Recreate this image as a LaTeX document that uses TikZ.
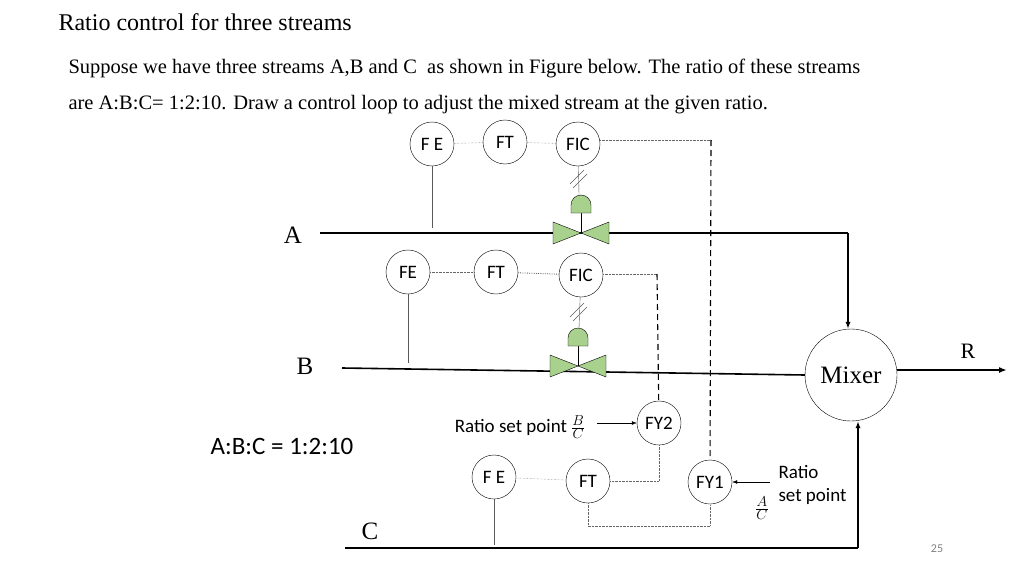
\documentclass[tikz,border=0pt]{standalone}
\usepackage{fontspec}
\setmainfont{Liberation Serif}
\newfontfamily\carl{Carlito}
\usetikzlibrary{arrows.meta}
\definecolor{valvegreen}{RGB}{169,209,142}
\tikzset{
    inst/.style = {draw, circle, fill=white, minimum size=44pt, inner sep=0pt, font=\carl\fontsize{19}{22}\selectfont},
    pipe/.style = {line width=1.6pt},
    sig/.style = {densely dotted, gray!80!black, thin},
    elec/.style = {line width=1.1pt, dash pattern=on 6pt off 4pt},
    stem/.style = {gray!70!black, thin},
    lbl/.style = {font=\fontsize{25}{28}\selectfont},
}
\tikzset{
    valve/.pic = {
        \draw[fill=valvegreen] (0,0) -- (-28,-11) -- (-28,11) -- cycle;
        \draw[fill=valvegreen] (0,0) -- (28,-11) -- (28,11) -- cycle;
        \draw[thick] (0,0) -- (0,-20);
        \draw[fill=valvegreen] (-10,-20) -- (10,-20) -- (10,-28) arc (0:-180:10) -- cycle;
    },
}

\begin{document}
\begin{tikzpicture}[x=1pt,y=-1pt]
\useasboundingbox (0,0) rectangle (1024,575);
% titles
\node[anchor=west, font=\fontsize{24}{28}\selectfont] (title) at (55,22) {Ratio control for three streams};
\node[anchor=west, font=\fontsize{20.5}{24}\selectfont] (line1) at (65,68) {Suppose we have three streams A,B and C\ \ as shown in Figure below. The ratio of these streams};
\node[anchor=west, font=\fontsize{20.5}{24}\selectfont] (line2) at (65,105) {are A:B:C= 1:2:10. Draw a control loop to adjust the mixed stream at the given ratio.};

% mixer
\node[draw, circle, minimum size=92pt, font=\fontsize{25}{28}\selectfont] (mix) at (851,375) {Mixer};
\coordinate (rin) at (897,370);
\coordinate (rout) at (1007,370);
\draw[pipe, -{Latex[length=8pt]}] (rin) -- (rout);
\node[font=\fontsize{22}{24}\selectfont] (rlbl) at (968,351) {R};

% stream A
\coordinate (a0) at (320,233);
\coordinate (a1) at (848,233);
\node[lbl] (albl) at (293,235) {A};
\draw[pipe] (a0) -- (a1);
\draw[pipe, -{Latex[length=7pt]}] (a1) -- (mix.north -| a1);
\pic at (581,233) {valve};
\node[inst] (feA) at (432,144) {F E};
\node[inst] (ftA) at (505,142) {FT};
\node[inst] (ficA) at (578,144) {FIC};
\draw[sig] (feA) -- (ftA);
\draw[sig] (ftA) -- (ficA);
\draw[stem] (feA) -- (432,228);
\draw[stem] (ficA) -- (579,195);
\draw[stem] (570,184) -- (584,170) (573,188) -- (587,174);
\coordinate (aturn) at (711,140);
\draw[sig] (ficA.east |- aturn) -- (aturn);

% stream B
\coordinate (b0) at (342,368);
\node[lbl] (blbl) at (305,366) {B};
\draw[pipe] (b0) -- (mix.west);
\pic at (578,366) {valve};
\node[inst] (feB) at (408,272) {FE};
\node[inst] (ftB) at (496,272) {FT};
\node[inst] (ficB) at (581,275) {FIC};
\draw[sig] (feB) -- (ftB);
\draw[sig, thick] (ftB) -- (ficB);
\draw[stem] (feB) -- (408,363);
\draw[stem] (ficB) -- (579,328);
\draw[stem] (570,317) -- (584,303) (573,321) -- (587,307);
\coordinate (bturn) at (657,274);
\draw[sig] (ficB.east |- bturn) -- (bturn);

% stream C
\coordinate (c0) at (345,548);
\coordinate (c1) at (858,548);
\coordinate (cbus) at (0,526);
\node[lbl] (clbl) at (370,531) {C};
\draw[pipe] (c0) -- (c1);
\draw[pipe, -{Latex[length=7pt]}] (c1) -- (mix.south -| c1);
\node[inst] (feC) at (494,477) {F E};
\node[inst] (ftC) at (588,481) {FT};
\node[inst] (fy1) at (710,482) {FY1};
\node[inst] (fy2) at (659,423) {FY2};
\draw[sig] (feC) -- (ftC);
\draw[stem] (feC) -- (494,545);
\draw[sig] (fy2) -- (fy2.south |- ftC) -- (ftC);
\draw[sig] (ftC) -- (ftC.south |- cbus) -- (fy1.south |- cbus) -- (fy1);

% ratio signals
\draw[elec] (bturn) -- (fy2);
\draw[elec] (aturn) -- (fy1);
\node[font=\carl\fontsize{19}{22}\selectfont] (rspB) at (520,427) {Ratio set point $\frac{B}{C}$};
\draw[-{Latex[length=5pt]}] (597,423) -- (fy2);
\draw[-{Latex[length=5pt]}] (770,482) -- (fy1);
\node[anchor=west, align=left, font=\carl\fontsize{19}{23}\selectfont] (rspA) at (775,485) {Ratio\\set point};
\node[font=\fontsize{19}{22}\selectfont] (fracA) at (762,508) {$\frac{A}{C}$};

\node[font=\carl\fontsize{25}{28}\selectfont] (ratio) at (282,446) {A:B:C = 1:2:10};
\node[font=\carl\fontsize{12}{14}\selectfont, text=gray] (page) at (937,549) {25};
\end{tikzpicture}
\end{document}
